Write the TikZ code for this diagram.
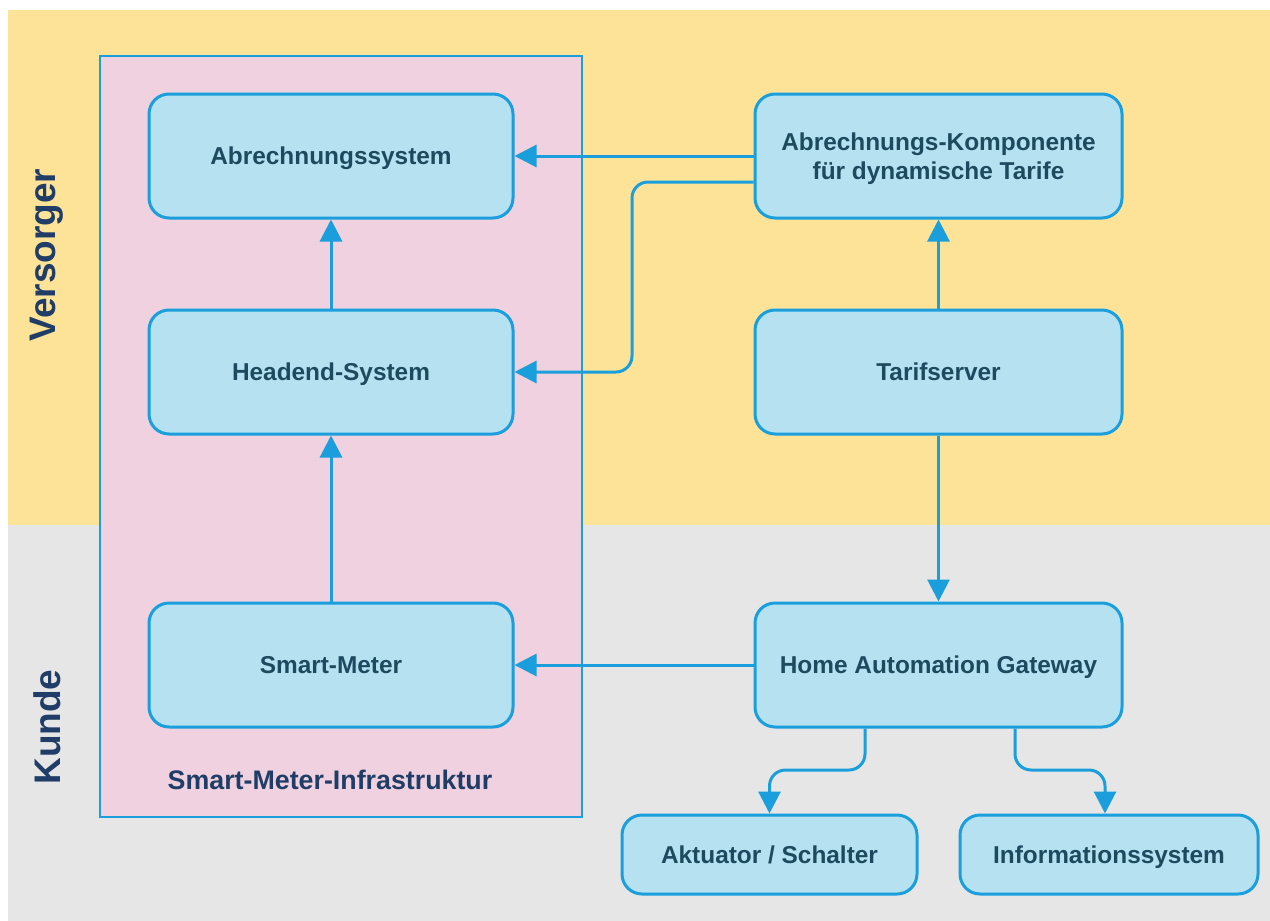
\documentclass[tikz,border=0pt]{standalone}
\usepackage{fontspec}
\setmainfont{Liberation Sans}
\usetikzlibrary{arrows.meta}
\definecolor{bgyellow}{HTML}{FDE398}
\definecolor{bggray}{HTML}{E6E6E6}
\definecolor{infrapink}{HTML}{EFD1DF}
\definecolor{boxfill}{HTML}{B5E1F1}
\definecolor{boxline}{HTML}{1B9FDC}
\definecolor{boxtext}{HTML}{1D4A5E}
\definecolor{labeltext}{HTML}{1F3D66}
\tikzset{
  compbox/.style={draw=boxline, line width=1.5pt, fill=boxfill, rounded corners=10pt,
    minimum width=182pt, minimum height=62pt, align=center, text=boxtext,
    font=\fontsize{12.2}{14.5}\selectfont\bfseries, inner sep=0pt},
  oneline/.style={compbox, text height=8.8pt, text depth=0pt},
  smallbox/.style={oneline, minimum width=147.5pt, minimum height=39.5pt},
  flow/.style={draw=boxline, line width=1.5pt, -{Triangle[length=11pt,width=11pt]}},
  sidelabel/.style={rotate=90, text=labeltext, font=\fontsize{18.5}{20}\selectfont\bfseries},
}
\begin{document}
\begin{tikzpicture}[x=0.5pt,y=-0.5pt]
\useasboundingbox (0,0) rectangle (1270,921);
\fill[white] (0,0) rectangle (1270,921);
\fill[bgyellow] (8,10) rectangle (1270,525);
\fill[bggray] (8,525) rectangle (1270,921);
\draw[boxline, fill=infrapink, line width=0.8pt] (100,56) rectangle (582,817);

\node[sidelabel] (versorger) at (47,255) {Versorger};
\node[sidelabel] (kunde) at (47,727) {Kunde};
\node[text=labeltext, font=\fontsize{13.4}{16}\selectfont\bfseries] (infra) at (330,780) {Smart-Meter-Infrastruktur};

\node[oneline] (abr) at (331,156) {Abrechnungssystem};
\node[oneline] (head) at (331,372) {Headend-System};
\node[oneline] (smart) at (331,665) {Smart-Meter};
\node[compbox, minimum width=183.5pt] (abk) at (938.5,156) {\raisebox{-1.5pt}[\height][\depth]{\begin{tabular}{@{}c@{}}Abrechnungs-Komponente\\für dynamische Tarife\end{tabular}}};
\node[oneline, minimum width=183.5pt] (tarif) at (938.5,372) {Tarifserver};
\node[oneline, minimum width=183.5pt] (hag) at (938.5,665) {Home Automation Gateway};
\node[smallbox] (akt) at (769.5,854.5) {Aktuator / Schalter};
\node[smallbox, minimum width=149pt] (info) at (1109,854.5) {Informationssystem};

\coordinate (bend) at (632,182);
\coordinate (low) at (0,770);

\draw[flow] (abk.west) -- (abr.east);
\draw[flow, rounded corners=8pt] ([yshift=-13pt]abk.west) -- (bend) -- (bend |- head.east) -- (head.east);
\draw[flow] (head.north) -- (abr.south);
\draw[flow] (smart.north) -- (head.south);
\draw[flow] (tarif.north) -- (abk.south);
\draw[flow] (tarif.south) -- (hag.north);
\draw[flow] (hag.west) -- (smart.east);
\draw[flow, rounded corners=8pt] ([xshift=-36.75pt]hag.south) -- ([xshift=-36.75pt]hag.south |- low) -- (akt.north |- low) -- (akt.north);
\draw[flow, rounded corners=8pt] ([xshift=38.25pt]hag.south) -- ([xshift=38.25pt]hag.south |- low) -- ([xshift=-2pt]info.north |- low) -- ([xshift=-2pt]info.north);
\end{tikzpicture}
\end{document}
